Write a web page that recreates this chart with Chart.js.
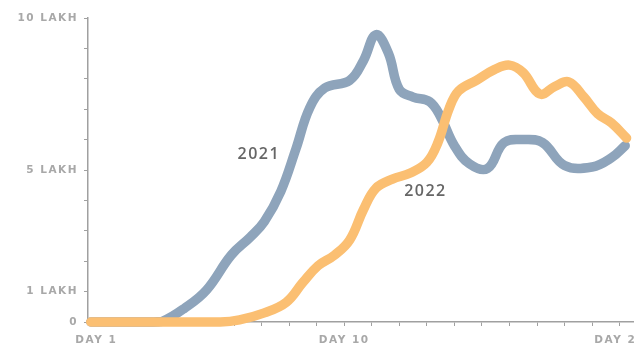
<!DOCTYPE html>
<html>
<head>
<meta charset="utf-8">
<script src="https://cdn.jsdelivr.net/npm/chart.js@4.4.1/dist/chart.umd.min.js"></script>
<style>
  html, body { margin: 0; padding: 0; background: #ffffff; overflow: hidden; }
  #wrap { width: 680px; height: 347px; position: relative; }
</style>
</head>
<body>
<div id="wrap"><canvas id="c" width="680" height="347"></canvas></div>
<script>
// Day positions (x) and values in lakh (y)
const days2021 = [0.8, 2, 3, 3.4, 4.2, 5, 5.9, 6.6, 7.1, 7.7, 8.25, 8.75, 9.3, 10.2, 10.7, 11.15, 11.6, 12, 12.5, 13.1, 13.5, 14, 14.55, 15.2, 15.8, 16.5, 17.2, 18, 19, 19.7, 20.2];
const cases2021 = [0, 0, 0, 0.02, 0.45, 1.05, 2.2, 2.8, 3.3, 4.3, 5.7, 7.05, 7.7, 7.95, 8.6, 9.45, 8.85, 7.65, 7.4, 7.25, 6.75, 5.8, 5.2, 5.05, 5.9, 6.0, 5.9, 5.15, 5.1, 5.4, 5.8];

const days2022 = [0.8, 3, 5.5, 6.2, 7.1, 7.9, 8.5, 9.05, 9.65, 10.2, 10.7, 11.15, 11.75, 12.4, 13, 13.4, 13.8, 14.15, 14.8, 15.45, 16, 16.5, 17.1, 17.65, 18.15, 18.7, 19.2, 19.7, 20.25];
const cases2022 = [0, 0, 0, 0.07, 0.3, 0.65, 1.3, 1.85, 2.2, 2.7, 3.7, 4.4, 4.7, 4.9, 5.25, 5.9, 7.0, 7.6, 7.95, 8.3, 8.45, 8.2, 7.5, 7.75, 7.9, 7.4, 6.85, 6.55, 6.05];

const seriesNames = ['2021', '2022'];
const xTickDays = [1,2,3,4,5,6,7,8,9,10,11,12,13,14,15,16,17,18,19,20];
const xLabeledDays = {1: 'DAY 1', 10: 'DAY 10', 20: 'DAY 20'};
const yTickValues = [0,1,2,3,4,5,6,7,8,9,10];
const yLabeled = {0: '0', 1: '1 LAKH', 5: '5 LAKH', 10: '10 LAKH'};
// where the series names sit, in data units [day, lakh]
const nameAt = [[6.9, 5.5], [12.95, 4.3]];

const toPts = (xs, ys) => xs.map((x, i) => ({x: x, y: ys[i]}));

const blue = '#8ea4bb';
const orange = '#fbbf72';

const spacing = {
  id: 'spacing',
  beforeDraw(chart) { chart.ctx.letterSpacing = '1.5px'; }
};

const seriesLabels = {
  id: 'seriesLabels',
  afterDatasetsDraw(chart) {
    const {ctx, scales: {x, y}} = chart;
    ctx.save();
    ctx.letterSpacing = '1.5px';
    ctx.font = '600 16px "Open Sans", "DejaVu Sans", sans-serif';
    ctx.fillStyle = '#666666';
    ctx.textAlign = 'center';
    ctx.textBaseline = 'middle';
    seriesNames.forEach((n, i) => {
      ctx.fillText(n, x.getPixelForValue(nameAt[i][0]), y.getPixelForValue(nameAt[i][1]));
    });
    ctx.restore();
  }
};

const tickFont = { family: '"DejaVu Sans", sans-serif', size: 10.5, weight: 'bold' };

new Chart(document.getElementById('c'), {
  type: 'line',
  data: {
    datasets: [
      { label: seriesNames[0], data: toPts(days2021, cases2021), borderColor: blue, borderWidth: 9.5,
        pointRadius: 0, tension: 0.4, borderCapStyle: 'round', borderJoinStyle: 'round', fill: false, order: 2 },
      { label: seriesNames[1], data: toPts(days2022, cases2022), borderColor: orange, borderWidth: 9.5,
        pointRadius: 0, tension: 0.4, borderCapStyle: 'round', borderJoinStyle: 'round', fill: false, order: 1 }
    ]
  },
  options: {
    responsive: false,
    animation: false,
    clip: false,
    layout: { padding: { left: 0, right: 30, top: 18, bottom: 0 } },
    plugins: { legend: { display: false }, tooltip: { enabled: false } },
    scales: {
      x: {
        type: 'linear', min: 0.7, max: 21.1,
        afterBuildTicks: s => { s.ticks = xTickDays.map(v => ({value: v})); },
        afterFit: s => { s.height = 25; },
        ticks: {
          autoSkip: false, maxRotation: 0, padding: 8,
          color: '#a8a8a8',
          font: tickFont,
          callback: v => xLabeledDays[v] || ''
        },
        grid: { drawOnChartArea: false, drawTicks: true, tickLength: 4, color: '#a0a0a0', lineWidth: 1 },
        border: { display: true, color: '#a0a0a0', width: 1.5 }
      },
      y: {
        min: 0, max: 10,
        afterBuildTicks: s => { s.ticks = yTickValues.map(v => ({value: v})); },
        afterFit: s => { s.width = 88; },
        ticks: {
          autoSkip: false, padding: 6,
          color: '#a8a8a8',
          font: tickFont,
          callback: v => yLabeled[v] || ''
        },
        grid: { drawOnChartArea: false, drawTicks: true, tickLength: 4, color: '#a0a0a0', lineWidth: 1 },
        border: { display: true, color: '#a0a0a0', width: 1.5 }
      }
    }
  },
  plugins: [spacing, seriesLabels]
});
</script>
</body>
</html>
